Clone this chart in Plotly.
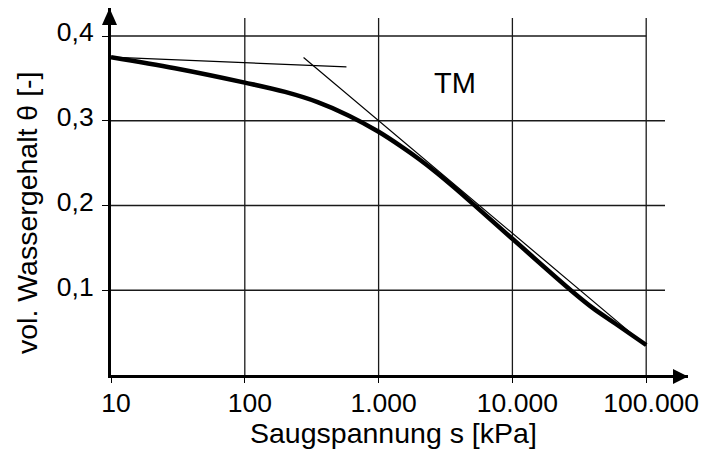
import plotly.graph_objects as go

# ---- data ----
suction = [10, 30, 100, 200, 350, 600, 1000, 1500, 2000, 2700, 3700, 5000, 10000, 28000, 40000, 59000, 100000]
theta = [0.375, 0.362, 0.345, 0.334, 0.322, 0.306, 0.287, 0.2689, 0.2549, 0.2390, 0.2209, 0.2028,
         0.1607, 0.0986, 0.0789, 0.0605, 0.0354]

tangent1_s = [10, 575]
tangent1_theta = [0.375, 0.3636]
tangent2_s = [275, 100000]
tangent2_theta = [0.3746, 0.0344]

x_tickvals = [10, 100, 1000, 10000, 100000]
x_ticktext = ["10", "100", "1.000", "10.000", "100.000"]
y_tickvals = [0.1, 0.2, 0.3, 0.4]
y_ticktext = ["0,1", "0,2", "0,3", "0,4"]

label_text = "TM"
x_title = "Saugspannung s [kPa]"
y_title = "vol. Wassergehalt θ [-]"

# ---- layout geometry ----
W, H = 712, 450
ML, MR, MT, MB = 111, 24, 8, 75
PW, PH = W - ML - MR, H - MT - MB
DECADE_PX = 133.8
Y_PX_PER_UNIT = 847.5
x_range = [1, 1 + PW / DECADE_PX]
y_range = [0, PH / Y_PX_PER_UNIT]


def px_x(p):
    return (p - ML) / PW


def px_y(p):
    return (H - MB - p) / PH


FONT = "Liberation Sans, Arial, sans-serif"

fig = go.Figure()

# gridlines (drawn as thin lines through the axis scales)
grid_top = (H - MB - 18) / Y_PX_PER_UNIT
grid_right = 10 ** (1 + (665 - ML) / DECADE_PX)
gx, gy = [], []
for v in x_tickvals[1:]:
    gx += [v, v, None]
    gy += [0, grid_top, None]
for v in y_tickvals:
    right = x_tickvals[-1] if v == max(y_tickvals) else grid_right
    gx += [x_tickvals[0], right, None]
    gy += [v, v, None]
fig.add_trace(go.Scatter(x=gx, y=gy, mode="lines",
                         line=dict(color="#1a1a1a", width=1.3),
                         hoverinfo="skip", showlegend=False))

# tangents
fig.add_trace(go.Scatter(x=tangent1_s, y=tangent1_theta, mode="lines",
                         line=dict(color="black", width=1.2),
                         hoverinfo="skip", showlegend=False))
fig.add_trace(go.Scatter(x=tangent2_s, y=tangent2_theta, mode="lines",
                         line=dict(color="black", width=1.2),
                         hoverinfo="skip", showlegend=False))

# main curve
fig.add_trace(go.Scatter(x=suction, y=theta, mode="lines",
                         line=dict(color="black", width=4.5, shape="spline", smoothing=1.0),
                         showlegend=False))

shapes = []
# y-axis arrow head
cx = px_x(109.5)
shapes.append(dict(type="path", xref="paper", yref="paper",
                   path=f"M {cx - 7.5 / PW} {px_y(25)} L {cx} {px_y(MT)} L {cx + 7.5 / PW} {px_y(25)} Z",
                   fillcolor="black", line=dict(color="black", width=0)))
# x-axis arrow head
cy = px_y(376.5)
shapes.append(dict(type="path", xref="paper", yref="paper",
                   path=f"M {px_x(673)} {cy - 7.5 / PH} L {px_x(W - MR)} {cy} L {px_x(673)} {cy + 7.5 / PH} Z",
                   fillcolor="black", line=dict(color="black", width=0)))

annotations = [
    dict(text=label_text, x=px_x(454.5), y=px_y(83), xref="paper", yref="paper",
         showarrow=False, xanchor="center", yanchor="middle",
         font=dict(family=FONT, size=29, color="black")),
    dict(text=x_title, x=px_x(393), y=px_y(433), xref="paper", yref="paper",
         showarrow=False, xanchor="center", yanchor="middle",
         font=dict(family=FONT, size=28.5, color="black")),
    dict(text=y_title, x=px_x(27), y=px_y(213), xref="paper", yref="paper",
         showarrow=False, xanchor="center", yanchor="middle", textangle=-90,
         font=dict(family=FONT, size=28.5, color="black")),
]

fig.update_layout(
    width=W, height=H,
    margin=dict(l=ML, r=MR, t=MT, b=MB, autoexpand=False),
    paper_bgcolor="white", plot_bgcolor="white",
    shapes=shapes, annotations=annotations,
    showlegend=False,
    xaxis=dict(type="log", range=x_range, showgrid=False, zeroline=False,
               showline=True, linewidth=3, linecolor="black",
               ticks="outside", ticklen=5, tickwidth=1.3, tickcolor="black",
               tickvals=x_tickvals, ticktext=x_ticktext,
               ticklabelstandoff=-3, ticklabelshift=5,
               tickfont=dict(family=FONT, size=26.5, color="black")),
    yaxis=dict(range=y_range, showgrid=False, zeroline=False,
               showline=True, linewidth=3, linecolor="black",
               ticks="outside", ticklen=6, tickwidth=1.3, tickcolor="black",
               tickvals=y_tickvals, ticktext=y_ticktext,
               ticklabelstandoff=3, ticklabelshift=-4,
               tickfont=dict(family=FONT, size=26.5, color="black")),
)

fig.write_html("out.html", config={"displayModeBar": False},
               post_script="document.body.style.margin='0';")
